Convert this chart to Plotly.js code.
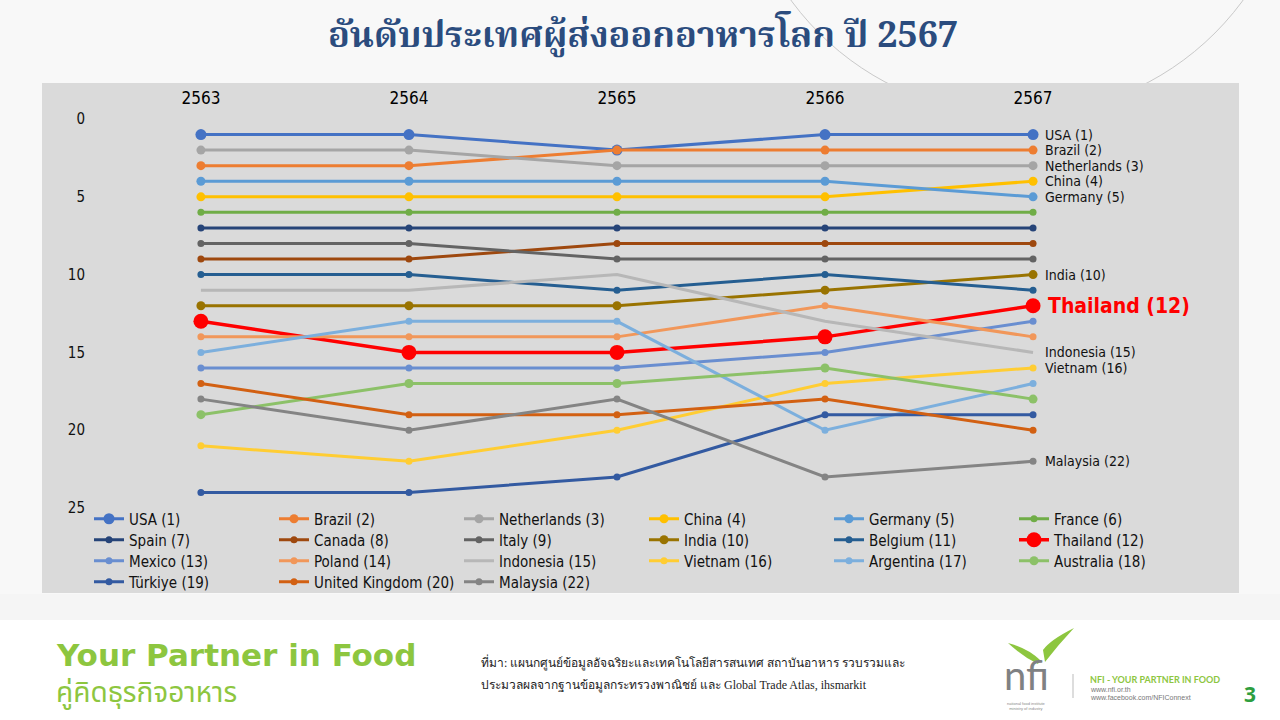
<!DOCTYPE html>
<html>
<head>
<meta charset="utf-8">
<script src="https://cdn.plot.ly/plotly-3.0.1.min.js"></script>
<style>
html,body{margin:0;padding:0;background:#ffffff;}
#chart{width:1280px;height:720px;}
</style>
</head>
<body>
<div id="chart"></div>
<script>
// ---------- DATA ----------
const years = ["2563", "2564", "2565", "2566", "2567"];
const countries = ["USA (1)", "Brazil (2)", "Netherlands (3)", "China (4)", "Germany (5)", "France (6)",
  "Spain (7)", "Canada (8)", "Italy (9)", "India (10)", "Belgium (11)", "Thailand (12)",
  "Mexico (13)", "Poland (14)", "Indonesia (15)", "Vietnam (16)", "Argentina (17)", "Australia (18)",
  "Türkiye (19)", "United Kingdom (20)", "Malaysia (22)"];
const rankUSA         = [1, 1, 2, 1, 1];
const rankBrazil      = [3, 3, 2, 2, 2];
const rankNetherlands = [2, 2, 3, 3, 3];
const rankChina       = [5, 5, 5, 5, 4];
const rankGermany     = [4, 4, 4, 4, 5];
const rankFrance      = [6, 6, 6, 6, 6];
const rankSpain       = [7, 7, 7, 7, 7];
const rankCanada      = [9, 9, 8, 8, 8];
const rankItaly       = [8, 8, 9, 9, 9];
const rankIndia       = [12, 12, 12, 11, 10];
const rankBelgium     = [10, 10, 11, 10, 11];
const rankThailand    = [13, 15, 15, 14, 12];
const rankMexico      = [16, 16, 16, 15, 13];
const rankPoland      = [14, 14, 14, 12, 14];
const rankIndonesia   = [11, 11, 10, 13, 15];
const rankVietnam     = [21, 22, 20, 17, 16];
const rankArgentina   = [15, 13, 13, 20, 17];
const rankAustralia   = [19, 17, 17, 16, 18];
const rankTurkiye     = [24, 24, 23, 19, 19];
const rankUK          = [17, 19, 19, 18, 20];
const rankMalaysia    = [18, 20, 18, 23, 22];
const ranks = [rankUSA, rankBrazil, rankNetherlands, rankChina, rankGermany, rankFrance,
  rankSpain, rankCanada, rankItaly, rankIndia, rankBelgium, rankThailand,
  rankMexico, rankPoland, rankIndonesia, rankVietnam, rankArgentina, rankAustralia,
  rankTurkiye, rankUK, rankMalaysia];
// countries labelled at the right end
const labelled = ["USA (1)", "Brazil (2)", "Netherlands (3)", "China (4)", "Germany (5)",
  "India (10)", "Thailand (12)", "Indonesia (15)", "Vietnam (16)", "Malaysia (22)"];
const yTicks = [0, 5, 10, 15, 20, 25];

// ---------- STYLE ----------
const colors = ["#4472C4", "#ED7D31", "#A5A5A5", "#FFC000", "#5B9BD5", "#70AD47",
  "#264478", "#9E480E", "#636363", "#997300", "#255E91", "#FF0000",
  "#698ED0", "#F1975A", "#B7B7B7", "#FFCD33", "#7CAFDD", "#8CC168",
  "#335AA1", "#D26012", "#848484"];
const msize = [11, 9, 9, 9, 9, 7, 7, 7, 7, 9, 7, 15, 7, 7, 0, 7, 7, 9, 7, 7, 7];
const lwidth = countries.map((c, i) => i === 11 ? 3.5 : 3);
const perRow = 6;

// pixel layout of plot area
const L = 89, R = 1239, T = 108, B = 593;
const W = R - L, H = B - T;
const px = x => (x - L) / W;
const py = y => (B - y) / H;
const FONT = "DejaVu Sans Condensed, Tahoma, Liberation Sans, sans-serif";
const legendIds = ["legend", "legend2", "legend3", "legend4"];

const traces = countries.map((name, i) => ({
  type: "scatter",
  mode: msize[i] > 0 ? "lines+markers" : "lines",
  name: name,
  x: years,
  y: ranks[i],
  legend: legendIds[Math.floor(i / perRow)],
  line: {color: colors[i], width: lwidth[i]},
  marker: {color: colors[i], size: msize[i], line: {width: 0}},
  hoverinfo: "name+y"
}));

const annotations = [];
countries.forEach((name, i) => {
  if (!labelled.includes(name)) return;
  const isTh = name.startsWith("Thailand");
  annotations.push({
    x: years.length - 1, y: ranks[i][ranks[i].length - 1],
    xref: "x", yref: "y", text: isTh ? "<b>" + name + "</b>" : name,
    showarrow: false, xanchor: "left", yanchor: "middle",
    xshift: isTh ? 13 : 10,
    font: {family: FONT, size: isTh ? 21 : 14, color: isTh ? "#FF0000" : "#111111"}
  });
});

// slide decorations (text)
annotations.push(
  {xref: "paper", yref: "paper", x: px(643), y: py(37), xanchor: "center", yanchor: "middle",
   text: "<b>อันดับประเทศผู้ส่งออกอาหารโลก ปี 2567</b>", showarrow: false,
   font: {family: "Noto Serif Thai, Noto Sans Thai, Liberation Serif, serif", size: 36, color: "#2B4C7E"}},
  {xref: "paper", yref: "paper", x: px(54), y: py(655), xanchor: "left", yanchor: "middle",
   text: "<b>Your Partner in Food</b>", showarrow: false,
   font: {family: "DejaVu Sans, sans-serif", size: 31, color: "#8DC63F"}},
  {xref: "paper", yref: "paper", x: px(54), y: py(693), xanchor: "left", yanchor: "middle",
   text: "คู่คิดธุรกิจอาหาร", showarrow: false,
   font: {family: "Noto Sans Thai, Noto Sans, sans-serif", size: 28, color: "#8DC63F"}},
  {xref: "paper", yref: "paper", x: px(479), y: py(662), xanchor: "left", yanchor: "middle",
   text: "ที่มา: แผนกศูนย์ข้อมูลอัจฉริยะและเทคโนโลยีสารสนเทศ สถาบันอาหาร รวบรวมและ", showarrow: false,
   font: {family: "Liberation Serif, serif", size: 12, color: "#222222"}},
  {xref: "paper", yref: "paper", x: px(479), y: py(685), xanchor: "left", yanchor: "middle",
   text: "ประมวลผลจากฐานข้อมูลกระทรวงพาณิชย์ และ Global Trade Atlas, ihsmarkit", showarrow: false,
   font: {family: "Liberation Serif, serif", size: 12, color: "#222222"}},
  {xref: "paper", yref: "paper", x: px(1026), y: py(675), xanchor: "center", yanchor: "middle",
   text: "nfi", showarrow: false,
   font: {family: "Lato, Open Sans, sans-serif", size: 40, color: "#7F8183"}},
  {xref: "paper", yref: "paper", x: px(1026), y: py(706), xanchor: "center", yanchor: "middle",
   text: "national food institute<br>ministry of industry", showarrow: false,
   font: {family: "Liberation Sans, sans-serif", size: 4, color: "#8A8A8A"}},
  {xref: "paper", yref: "paper", x: px(1088), y: py(679), xanchor: "left", yanchor: "middle",
   text: "<b>NFI - YOUR PARTNER IN FOOD</b>", showarrow: false,
   font: {family: "Lato, sans-serif", size: 9, color: "#8DC63F"}},
  {xref: "paper", yref: "paper", x: px(1088), y: py(689), xanchor: "left", yanchor: "middle",
   text: "www.nfi.or.th", showarrow: false,
   font: {family: "Liberation Sans, sans-serif", size: 7, color: "#777777"}},
  {xref: "paper", yref: "paper", x: px(1088), y: py(697), xanchor: "left", yanchor: "middle",
   text: "www.facebook.com/NFIConnext", showarrow: false,
   font: {family: "Liberation Sans, sans-serif", size: 7, color: "#777777"}},
  {xref: "paper", yref: "paper", x: px(1250), y: py(694), xanchor: "center", yanchor: "middle",
   text: "<b>3</b>", showarrow: false,
   font: {family: "Open Sans, sans-serif", size: 21, color: "#2E9E3E"}}
);

const shapes = [
  // faint background arc
  {type: "circle", xref: "paper", yref: "paper", layer: "below",
   x0: px(737), x1: px(1297), y0: py(-445), y1: py(115),
   line: {color: "#C9C9C9", width: 1}, fillcolor: "rgba(0,0,0,0)"},
  // footer band
  {type: "rect", xref: "paper", yref: "paper", layer: "below",
   x0: px(0), x1: px(1280), y0: py(620), y1: py(720),
   line: {width: 0}, fillcolor: "#FFFFFF"},
  {type: "rect", xref: "paper", yref: "paper", layer: "below",
   x0: px(0), x1: px(1280), y0: py(594), y1: py(620),
   line: {width: 0}, fillcolor: "#F5F5F5"},
  // grey chart box
  {type: "rect", xref: "paper", yref: "paper", layer: "below",
   x0: px(42), x1: px(1239), y0: py(593), y1: py(83),
   line: {width: 0}, fillcolor: "#DADADA"},
  // logo leaves
  {type: "path", xref: "paper", yref: "paper", layer: "above",
   path: "M " + px(1043) + " " + py(650) + " Q " + px(1050) + " " + py(640) + " " + px(1074) + " " + py(628) +
         " Q " + px(1058) + " " + py(645) + " " + px(1045) + " " + py(662) + " Z",
   line: {width: 0}, fillcolor: "#8DC63F"},
  {type: "path", xref: "paper", yref: "paper", layer: "above",
   path: "M " + px(1040) + " " + py(660) + " Q " + px(1028) + " " + py(648) + " " + px(1008) + " " + py(643) +
         " Q " + px(1022) + " " + py(656) + " " + px(1038) + " " + py(664) + " Z",
   line: {width: 0}, fillcolor: "#8DC63F"},
  // logo divider
  {type: "line", xref: "paper", yref: "paper", layer: "above",
   x0: px(1073), x1: px(1073), y0: py(674), y1: py(698),
   line: {color: "#BBBBBB", width: 1}}
];

const layout = {
  width: 1280, height: 720,
  margin: {l: L, r: 1280 - R, t: T, b: 720 - B, pad: 0, autoexpand: false},
  paper_bgcolor: "#F8F8F8",
  plot_bgcolor: "rgba(0,0,0,0)",
  font: {family: FONT, color: "#111111"},
  showlegend: true,
  xaxis: {
    type: "category", side: "top", range: [-0.538, 4.99],
    showgrid: false, zeroline: false, showline: false, ticks: "",
    tickfont: {family: FONT, size: 17, color: "#000000"}, fixedrange: true
  },
  yaxis: {
    range: [30.46, -0.707], tickvals: yTicks, ticktext: yTicks.map(String),
    showgrid: false, zeroline: false, showline: false, ticks: "",
    tickfont: {family: FONT, size: 15, color: "#111111"}, ticklabelstandoff: 3, fixedrange: true
  },
  annotations: annotations,
  shapes: shapes
};
legendIds.forEach((id, r) => {
  layout[id] = {
    orientation: "h", x: 0, y: py(519 + 21 * r), xanchor: "left", yanchor: "middle",
    entrywidth: 140, entrywidthmode: "pixels", bgcolor: "rgba(0,0,0,0)",
    font: {family: FONT, size: 15, color: "#111111"}, itemwidth: 30, traceorder: "normal"
  };
});

Plotly.newPlot("chart", traces, layout, {displayModeBar: false, staticPlot: true});
</script>
</body>
</html>
